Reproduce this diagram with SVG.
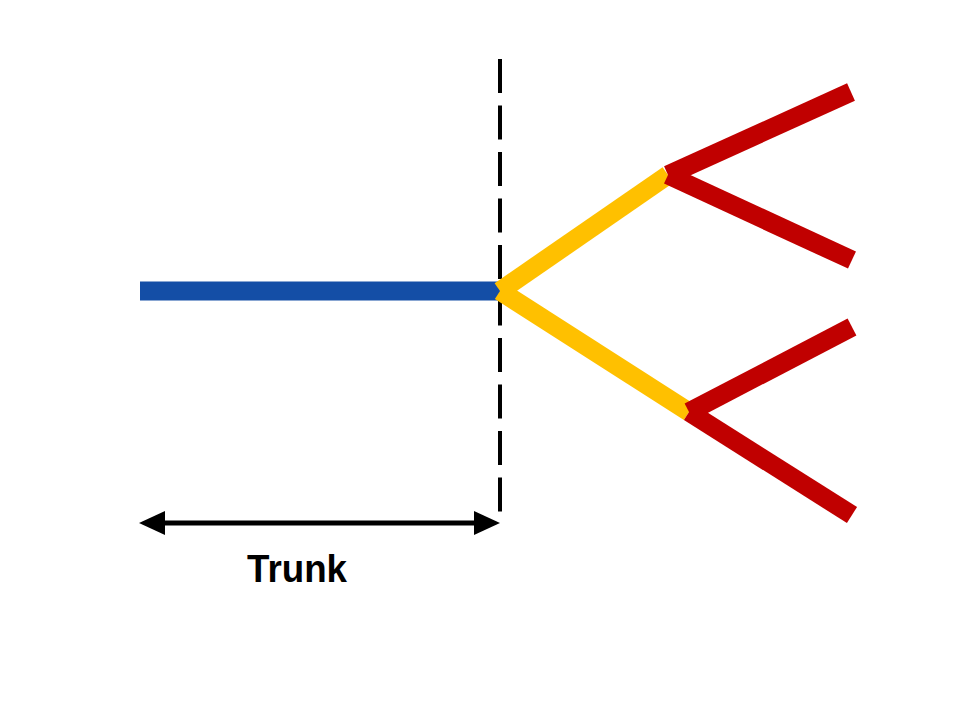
<svg xmlns="http://www.w3.org/2000/svg" width="960" height="720" viewBox="0 0 960 720">
  <style>
    .dash { stroke: #000; stroke-width: 4; stroke-dasharray: 34 12.5; fill: none; }
    .trunk { stroke: #144ea6; stroke-width: 19; fill: none; stroke-linecap: butt; }
    .yellow { stroke: #ffc000; stroke-width: 19; fill: none; stroke-linecap: butt; }
    .red { stroke: #c00000; stroke-width: 19; fill: none; stroke-linecap: butt; }
    .dim { stroke: #000; stroke-width: 5; fill: none; }
    .label { font-family: "Liberation Sans", Arial, sans-serif; font-weight: bold; font-size: 38px; fill: #000; }
  </style>
  <defs>
    <marker id="arrowhead" markerUnits="userSpaceOnUse" markerWidth="26" markerHeight="24" refX="5" refY="12" orient="auto-start-reverse" viewBox="0 0 26 24">
      <path d="M0,0 L26,12 L0,24 z" fill="#000"/>
    </marker>
  </defs>
  <rect width="960" height="720" fill="#fff"/>
  <g id="divider">
    <line class="dash" x1="500" y1="59" x2="500" y2="512"/>
  </g>
  <g id="connectors">
    <line id="trunk" class="trunk" x1="140" y1="291" x2="500" y2="291"/>
    <line id="branch-upper" class="yellow" x1="500" y1="291" x2="668" y2="175"/>
    <line id="branch-lower" class="yellow" x1="500" y1="291" x2="689" y2="412"/>
    <line id="leaf-1" class="red" x1="668" y1="175" x2="851" y2="92"/>
    <line id="leaf-2" class="red" x1="668" y1="175" x2="852" y2="260"/>
    <line id="leaf-3" class="red" x1="689" y1="412" x2="852" y2="327"/>
    <line id="leaf-4" class="red" x1="689" y1="412" x2="852" y2="515"/>
  </g>
  <g id="trunk-dimension">
    <line class="dim" x1="160" y1="523" x2="479" y2="523" marker-start="url(#arrowhead)" marker-end="url(#arrowhead)"/>
    <text class="label" x="297" y="582" text-anchor="middle" textLength="100" lengthAdjust="spacingAndGlyphs">Trunk</text>
  </g>
</svg>
